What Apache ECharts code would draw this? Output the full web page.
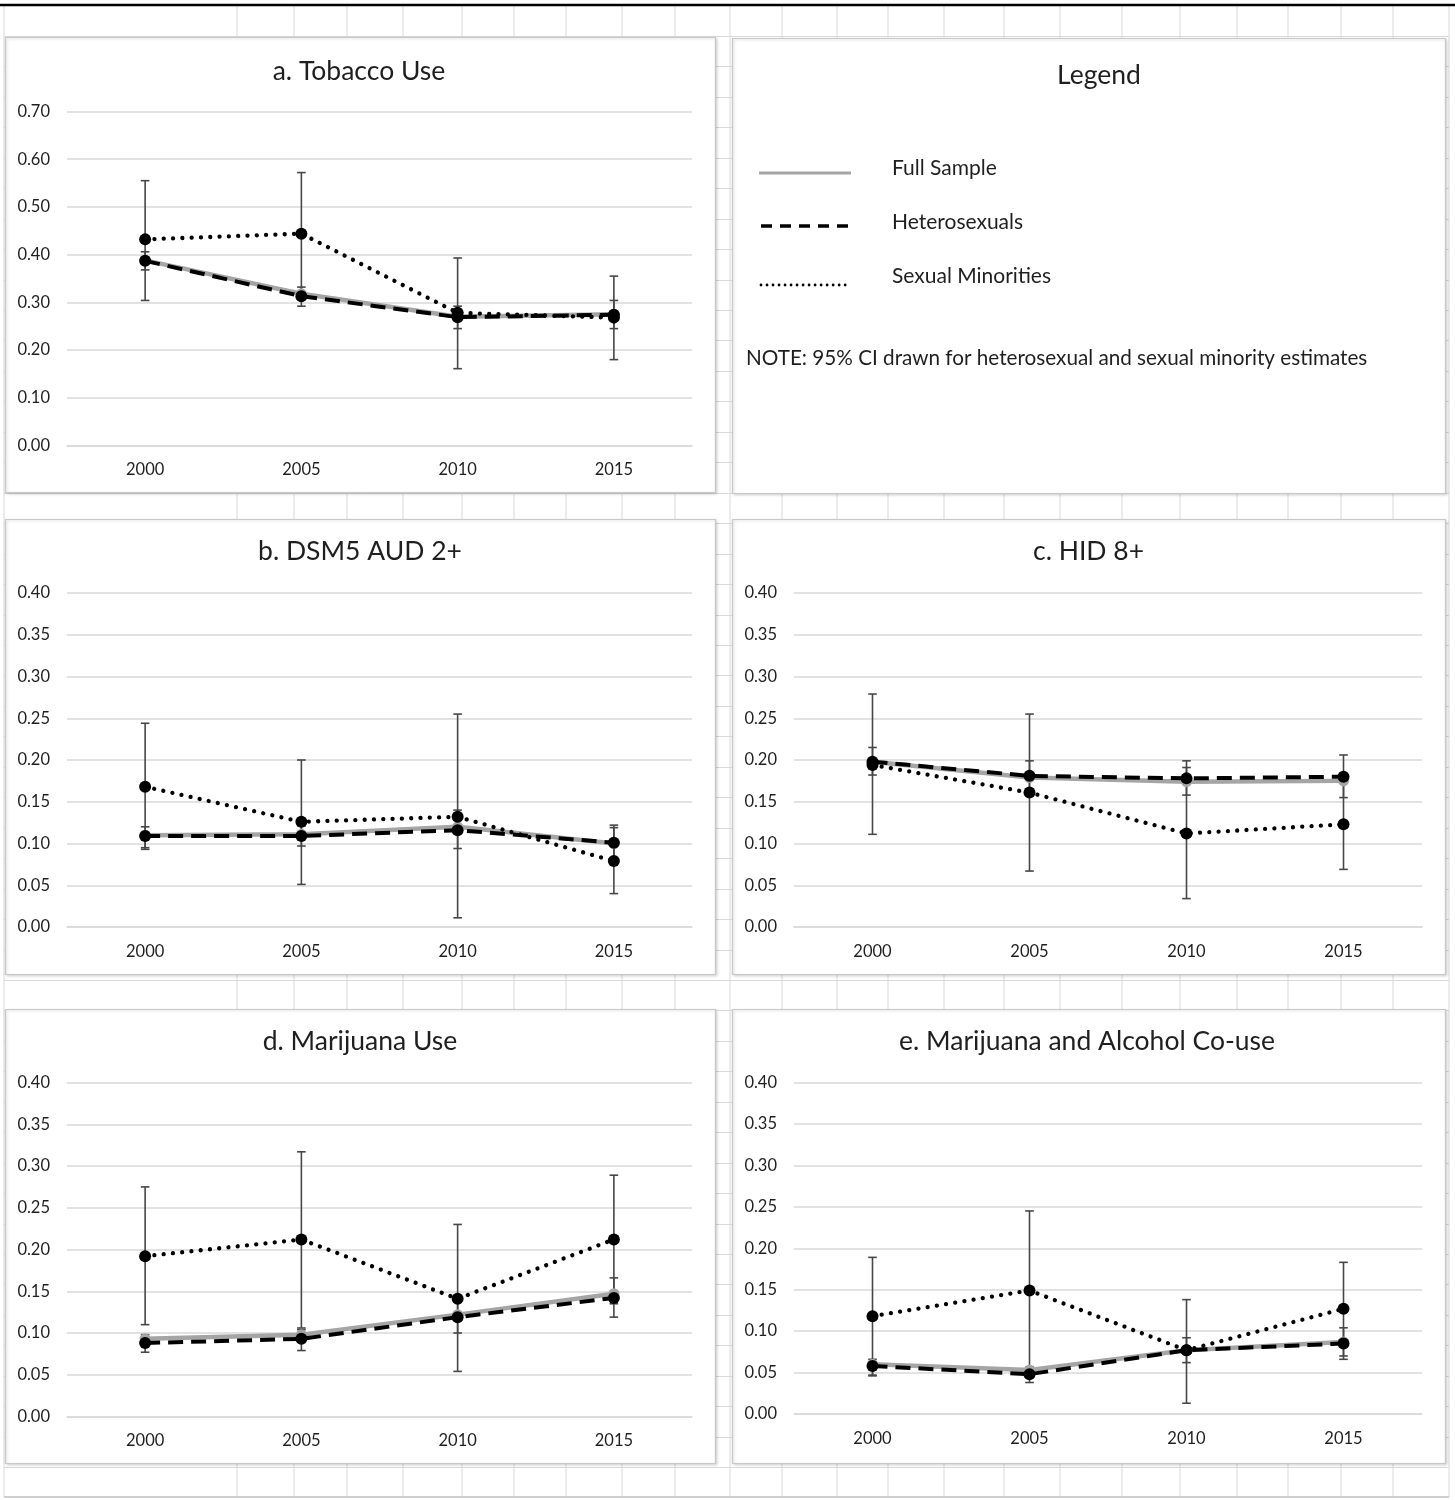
<!DOCTYPE html>
<html><head><meta charset="utf-8">
<script src="https://cdn.jsdelivr.net/npm/echarts@6/dist/echarts.min.js"></script>
<style>html,body{margin:0;padding:0;background:#fff}#c{width:1455px;height:1500px}</style>
</head><body><div id="c"></div>
<script>
// ---------- DATA ----------
const years = ['2000', '2005', '2010', '2015'];
const seriesNames = ['Full Sample', 'Heterosexuals', 'Sexual Minorities'];
const panelTitles = ['a. Tobacco Use', 'b. DSM5 AUD 2+', 'c. HID 8+', 'd. Marijuana Use', 'e. Marijuana and Alcohol Co-use'];
const legendTitle = 'Legend';
const noteText = 'NOTE: 95% CI drawn for heterosexual and sexual minority estimates';

const ticksTobacco = [0.00, 0.10, 0.20, 0.30, 0.40, 0.50, 0.60, 0.70];
const ticksOther = [0.00, 0.05, 0.10, 0.15, 0.20, 0.25, 0.30, 0.35, 0.40];

// a. Tobacco Use
const tobaccoFull = [0.388, 0.318, 0.270, 0.275];
const tobaccoHet = [0.387, 0.313, 0.269, 0.274];
const tobaccoHetLow = [0.368, 0.292, 0.245, 0.245];
const tobaccoHetHigh = [0.406, 0.332, 0.292, 0.304];
const tobaccoSM = [0.432, 0.444, 0.278, 0.268];
const tobaccoSMLow = [0.304, 0.317, 0.161, 0.180];
const tobaccoSMHigh = [0.555, 0.572, 0.393, 0.355];

// b. DSM5 AUD 2+
const audFull = [0.110, 0.111, 0.120, 0.100];
const audHet = [0.109, 0.109, 0.116, 0.101];
const audHetLow = [0.095, 0.097, 0.094, 0.081];
const audHetHigh = [0.120, 0.121, 0.140, 0.122];
const audSM = [0.168, 0.126, 0.132, 0.079];
const audSMLow = [0.093, 0.051, 0.011, 0.040];
const audSMHigh = [0.244, 0.200, 0.255, 0.119];

// c. HID 8+
const hidFull = [0.198, 0.179, 0.174, 0.175];
const hidHet = [0.198, 0.181, 0.178, 0.180];
const hidHetLow = [0.182, 0.165, 0.158, 0.155];
const hidHetHigh = [0.215, 0.199, 0.199, 0.206];
const hidSM = [0.194, 0.161, 0.112, 0.123];
const hidSMLow = [0.111, 0.067, 0.034, 0.069];
const hidSMHigh = [0.279, 0.255, 0.191, 0.177];

// d. Marijuana Use
const mjFull = [0.093, 0.098, 0.122, 0.147];
const mjHet = [0.088, 0.093, 0.119, 0.142];
const mjHetLow = [0.077, 0.079, 0.100, 0.119];
const mjHetHigh = [0.098, 0.104, 0.138, 0.166];
const mjSM = [0.192, 0.212, 0.141, 0.212];
const mjSMLow = [0.110, 0.106, 0.054, 0.135];
const mjSMHigh = [0.275, 0.317, 0.230, 0.289];

// e. Marijuana and Alcohol Co-use
const coFull = [0.060, 0.053, 0.077, 0.087];
const coHet = [0.058, 0.048, 0.077, 0.085];
const coHetLow = [0.046, 0.038, 0.062, 0.066];
const coHetHigh = [0.066, 0.057, 0.092, 0.104];
const coSM = [0.118, 0.149, 0.077, 0.127];
const coSMLow = [0.047, 0.056, 0.013, 0.070];
const coSMHigh = [0.189, 0.245, 0.138, 0.183];

// ---------- LAYOUT / STYLE ----------
const FONT = 'Lato';
const TXT = '#1f1f1f';
const GRIDC = '#d9d9d9';

const panels = [
  { title: panelTitles[0], ticks: ticksTobacco, full: tobaccoFull, het: tobaccoHet, hetLo: tobaccoHetLow, hetHi: tobaccoHetHigh, sm: tobaccoSM, smLo: tobaccoSMLow, smHi: tobaccoSMHigh,
    box: [5, 37, 710, 455], grid: { left: 67, top: 111.5, width: 625, height: 334 }, tc: 359, ty: 58 },
  { title: panelTitles[1], ticks: ticksOther, full: audFull, het: audHet, hetLo: audHetLow, hetHi: audHetHigh, sm: audSM, smLo: audSMLow, smHi: audSMHigh,
    box: [5, 519, 710, 455], grid: { left: 67, top: 593, width: 625, height: 334 }, tc: 360, ty: 538 },
  { title: panelTitles[2], ticks: ticksOther, full: hidFull, het: hidHet, hetLo: hidHetLow, hetHi: hidHetHigh, sm: hidSM, smLo: hidSMLow, smHi: hidSMHigh,
    box: [732, 519, 713, 455], grid: { left: 794, top: 593, width: 628, height: 334 }, tc: 1088.5, ty: 538 },
  { title: panelTitles[3], ticks: ticksOther, full: mjFull, het: mjHet, hetLo: mjHetLow, hetHi: mjHetHigh, sm: mjSM, smLo: mjSMLow, smHi: mjSMHigh,
    box: [5, 1009, 710, 454], grid: { left: 67, top: 1082.5, width: 625, height: 334 }, tc: 360, ty: 1028 },
  { title: panelTitles[4], ticks: ticksOther, full: coFull, het: coHet, hetLo: coHetLow, hetHi: coHetHigh, sm: coSM, smLo: coSMLow, smHi: coSMHigh,
    box: [732, 1009, 713, 454], grid: { left: 794, top: 1082.5, width: 628, height: 331.5 }, tc: 1087, ty: 1028 }
];
const legendBox = [732, 38, 713, 455];

function errRender(params, api) {
  const x = api.value(0);
  const lo = api.coord([x, api.value(1)]);
  const hi = api.coord([x, api.value(2)]);
  const st = { stroke: '#474747', lineWidth: 1.6 };
  const w = 4.3;
  return { type: 'group', children: [
    { type: 'line', shape: { x1: lo[0], y1: lo[1], x2: hi[0], y2: hi[1] }, style: st },
    { type: 'line', shape: { x1: lo[0] - w, y1: lo[1], x2: lo[0] + w, y2: lo[1] }, style: st },
    { type: 'line', shape: { x1: hi[0] - w, y1: hi[1], x2: hi[0] + w, y2: hi[1] }, style: st }
  ] };
}

const grids = [], xAxes = [], yAxes = [], titles = [], series = [], graphics = [];

// Spreadsheet background cells
const colXs = [4, 237, 294, 347, 403, 462, 514, 566, 622, 675, 730, 782, 837, 888, 944, 1004, 1060, 1122, 1180, 1237, 1288, 1341, 1393, 1449];
colXs.forEach(x => graphics.push({ type: 'line', z: -20, silent: true, shape: { x1: x, y1: 6, x2: x, y2: 1497 }, style: { stroke: GRIDC, lineWidth: 1 } }));
for (let y = 36; y < 1497; y += 30.45) {
  graphics.push({ type: 'line', z: -20, silent: true, shape: { x1: 4, y1: Math.round(y) + 0.5, x2: 1449, y2: Math.round(y) + 0.5 }, style: { stroke: GRIDC, lineWidth: 1 } });
}
graphics.push({ type: 'line', z: -20, silent: true, shape: { x1: 4, y1: 1497, x2: 1449, y2: 1497 }, style: { stroke: '#bfbfbf', lineWidth: 1.5 } });
graphics.push({ type: 'line', z: -19, silent: true, shape: { x1: 0, y1: 5, x2: 1455, y2: 5 }, style: { stroke: '#000', lineWidth: 2.5 } });

function boxRect(b) {
  return { type: 'rect', z: -10, silent: true, shape: { x: b[0] + 0.5, y: b[1] + 0.5, width: b[2], height: b[3] },
    style: { fill: '#fff', stroke: '#c8c8c8', lineWidth: 1.2, shadowBlur: 3, shadowOffsetX: 1, shadowOffsetY: 1, shadowColor: 'rgba(0,0,0,0.18)' } };
}
graphics.push(boxRect(legendBox));

panels.forEach((p, i) => {
  graphics.push(boxRect(p.box));
  grids.push(Object.assign({ containLabel: false }, p.grid));
  titles.push({ text: p.title, left: p.tc, top: p.ty, textAlign: 'center', padding: 0,
    textStyle: { fontFamily: FONT, fontSize: 26.5, fontWeight: 'normal', color: '#1f1f1f' } });
  xAxes.push({ type: 'category', gridIndex: i, data: years, boundaryGap: true,
    axisLine: { show: true, lineStyle: { color: GRIDC, width: 1.5 } }, axisTick: { show: false },
    axisLabel: { fontFamily: FONT, fontSize: 16.5, color: TXT, margin: 16 } });
  const t = p.ticks;
  yAxes.push({ type: 'value', gridIndex: i, min: t[0], max: t[t.length - 1], interval: t[1] - t[0],
    axisLine: { show: false }, axisTick: { show: false },
    splitLine: { lineStyle: { color: GRIDC, width: 1.5 } },
    axisLabel: { fontFamily: FONT, fontSize: 16.5, color: TXT, margin: 17, formatter: v => v.toFixed(2) } });

  series.push({ type: 'custom', name: seriesNames[1] + ' CI', xAxisIndex: i, yAxisIndex: i, z: 1, silent: true,
    renderItem: errRender, encode: { x: 0, y: [1, 2] },
    data: years.map((y, k) => [k, p.hetLo[k], p.hetHi[k]]) });
  series.push({ type: 'custom', name: seriesNames[2] + ' CI', xAxisIndex: i, yAxisIndex: i, z: 1, silent: true,
    renderItem: errRender, encode: { x: 0, y: [1, 2] },
    data: years.map((y, k) => [k, p.smLo[k], p.smHi[k]]) });
  series.push({ type: 'line', name: seriesNames[0], xAxisIndex: i, yAxisIndex: i, z: 2, data: p.full,
    symbol: 'circle', symbolSize: 11, itemStyle: { color: '#a5a5a5' },
    lineStyle: { color: '#a5a5a5', width: 4.5 } });
  series.push({ type: 'line', name: seriesNames[1], xAxisIndex: i, yAxisIndex: i, z: 3, data: p.het,
    symbol: 'circle', symbolSize: 12, itemStyle: { color: '#000' },
    lineStyle: { color: '#000', width: 4, type: [15, 8] } });
  series.push({ type: 'line', name: seriesNames[2], xAxisIndex: i, yAxisIndex: i, z: 4, data: p.sm,
    symbol: 'circle', symbolSize: 12, itemStyle: { color: '#000' },
    lineStyle: { color: '#000', width: 4.3, type: [0.01, 9.3], cap: 'round' } });
});

// Legend panel content
graphics.push({ type: 'text', z: 5, silent: true, x: 1099, y: 75,
  style: { text: legendTitle, fontFamily: FONT, fontSize: 26.5, fill: '#1f1f1f', align: 'center', verticalAlign: 'middle', textAlign: 'center', textVerticalAlign: 'middle' } });
const legendLines = [
  { y: 173, style: { stroke: '#a5a5a5', lineWidth: 3 }, x1: 759, x2: 851 },
  { y: 226, style: { stroke: '#000', lineWidth: 3.5, lineDash: [11, 8] }, x1: 761, x2: 856 },
  { y: 285, style: { stroke: '#000', lineWidth: 2.8, lineDash: [0.01, 6], lineCap: 'round' }, x1: 761, x2: 848 }
];
const legendTextY = [168, 222, 276];
seriesNames.forEach((n, k) => {
  const L = legendLines[k];
  graphics.push({ type: 'line', z: 5, silent: true, shape: { x1: L.x1, y1: L.y, x2: L.x2, y2: L.y }, style: L.style });
  graphics.push({ type: 'text', z: 5, silent: true, x: 892, y: legendTextY[k],
    style: { text: n, fontFamily: FONT, fontSize: 21, fill: '#1f1f1f', align: 'left', verticalAlign: 'middle', textAlign: 'left', textVerticalAlign: 'middle' } });
});
graphics.push({ type: 'text', z: 5, silent: true, x: 746, y: 358,
  style: { text: noteText, fontFamily: FONT, fontSize: 20.7, fill: '#1f1f1f', align: 'left', verticalAlign: 'middle', textAlign: 'left', textVerticalAlign: 'middle' } });

const chart = echarts.init(document.getElementById('c'), null, { renderer: 'canvas' });
chart.setOption({
  backgroundColor: '#fff',
  animation: false,
  title: titles,
  grid: grids,
  xAxis: xAxes,
  yAxis: yAxes,
  series: series,
  graphic: { elements: graphics }
});
</script>
</body></html>
